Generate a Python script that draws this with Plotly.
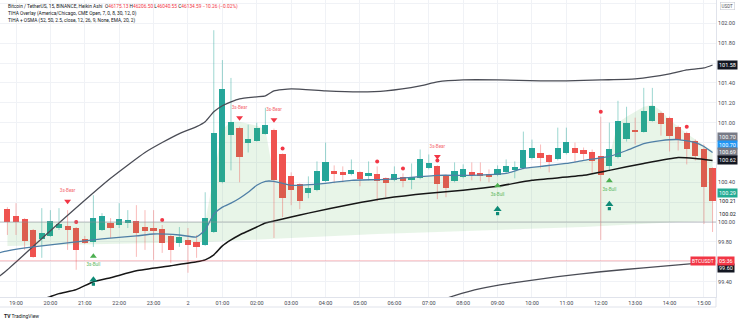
import plotly.graph_objects as go
import pandas as pd

# ---------------- data ----------------
START = "2024-01-01 18:45"
N_CANDLES = 83
times = pd.date_range(START, periods=N_CANDLES, freq="15min")
time_labels = [t.strftime("%H:%M") for t in times]

ha_open = [100.13, 100.06, 100.03, 99.92, 99.83, 99.86, 99.94, 99.96, 99.94, 99.83,
           99.80, 99.92, 99.99, 99.97, 100.00, 100.01, 99.95, 99.94, 99.93, 99.86,
           99.79, 99.82, 99.80, 99.77, 99.90, 100.40, 100.88, 100.95, 100.80, 100.82,
           100.89, 100.93, 100.68, 100.46, 100.38, 100.29, 100.32, 100.41, 100.51, 100.50,
           100.48, 100.50, 100.46, 100.48, 100.44, 100.42, 100.45, 100.43, 100.44, 100.54,
           100.56, 100.47, 100.41, 100.45, 100.50, 100.49, 100.48, 100.47, 100.50, 100.53,
           100.54, 100.64, 100.69, 100.67, 100.63, 100.69, 100.75, 100.72, 100.70, 100.66,
           100.56, 100.65, 100.84, 100.92, 100.91, 101.02, 101.10, 101.05, 100.96, 100.90,
           100.82, 100.74, 100.54]
ha_high = [100.15, 100.19, 100.04, 99.93, 100.14, 100.12, 100.14, 100.12, 99.95, 99.86,
           100.27, 100.09, 100.04, 100.19, 100.12, 100.17, 100.12, 100.12, 99.97, 99.87,
           99.95, 99.94, 99.87, 100.30, 101.93, 101.63, 101.45, 100.96, 100.98, 101.00,
           101.15, 100.94, 100.69, 100.50, 100.39, 100.46, 100.61, 100.80, 100.57, 100.56,
           100.63, 100.51, 100.61, 100.56, 100.45, 100.56, 100.49, 100.59, 100.73, 100.68,
           100.57, 100.48, 100.60, 100.58, 100.60, 100.60, 100.53, 100.57, 100.63, 100.61,
           100.91, 100.83, 100.78, 100.68, 100.95, 100.95, 100.80, 100.75, 100.73, 101.06,
           101.00, 101.22, 101.16, 101.05, 101.35, 101.35, 101.11, 101.06, 100.97, 100.91,
           100.83, 100.78, 100.55]
ha_low = [99.87, 99.87, 99.72, 99.64, 99.64, 99.85, 99.92, 99.72, 99.52, 99.78,
          99.75, 99.91, 99.84, 99.94, 99.94, 99.65, 99.72, 99.62, 99.69, 99.59,
          99.75, 99.49, 99.64, 99.76, 99.89, 100.39, 100.52, 100.40, 100.70, 100.81,
          100.88, 99.84, 100.05, 100.17, 100.13, 100.24, 100.31, 100.40, 100.39, 100.40,
          100.47, 100.36, 100.42, 100.21, 100.25, 100.41, 100.35, 100.33, 100.43, 100.53,
          100.23, 100.25, 100.40, 100.44, 100.42, 100.41, 100.40, 100.46, 100.49, 100.44,
          100.53, 100.63, 100.54, 100.50, 100.62, 100.68, 100.60, 100.63, 100.49, 99.82,
          100.51, 100.64, 100.81, 100.78, 100.90, 101.01, 100.87, 100.71, 100.72, 100.58,
          100.62, 99.98, 99.90]
ha_close = [100.00, 100.00, 99.81, 99.65, 99.89, 100.01, 99.98, 99.92, 99.72, 99.79,
            100.04, 100.06, 99.94, 100.03, 100.02, 99.89, 99.91, 99.91, 99.79, 99.72,
            99.85, 99.77, 99.75, 100.04, 100.90, 101.34, 101.01, 100.65, 100.84, 100.95,
            100.98, 100.42, 100.24, 100.32, 100.21, 100.34, 100.51, 100.60, 100.48, 100.48,
            100.52, 100.43, 100.49, 100.41, 100.39, 100.48, 100.41, 100.45, 100.63, 100.59,
            100.38, 100.34, 100.51, 100.53, 100.48, 100.47, 100.46, 100.53, 100.56, 100.55,
            100.72, 100.75, 100.64, 100.60, 100.75, 100.81, 100.69, 100.68, 100.61, 100.47,
            100.73, 101.02, 101.00, 100.91, 101.12, 101.17, 100.99, 100.87, 100.83, 100.74,
            100.66, 100.35, 100.21]

# indicator lines: (candle index, value)
upper_band = [(-1, 99.45), (0, 99.52), (6, 99.99), (12, 100.44), (16, 100.70), (18, 100.80),
              (20, 100.89), (22, 100.96), (23, 101.01), (24, 101.11), (25, 101.17), (26, 101.21),
              (27, 101.24), (29, 101.26), (30, 101.27), (31, 101.32), (33, 101.34), (37, 101.32),
              (41, 101.31), (44, 101.32), (48, 101.37), (50, 101.41), (53, 101.43), (57, 101.43),
              (62, 101.42), (65, 101.42), (69, 101.43), (73, 101.44), (77, 101.49), (79, 101.53),
              (81, 101.55), (82, 101.58)]
mid_line = [(4, 99.22), (5, 99.25), (6, 99.28), (8, 99.32), (10, 99.40), (12, 99.44), (15, 99.51),
            (19, 99.56), (22, 99.60), (23, 99.62), (24, 99.67), (25, 99.76), (26, 99.82),
            (27, 99.87), (28, 99.91), (29, 99.95), (30, 99.99), (31, 100.01), (33, 100.05),
            (35, 100.09), (40, 100.18), (44, 100.24), (49, 100.29), (53, 100.32), (57, 100.36),
            (61, 100.42), (67, 100.47), (70, 100.52), (74, 100.59), (78, 100.65), (80, 100.64),
            (82, 100.62)]
lower_band = [(50, 99.20), (52, 99.26), (55, 99.33), (59, 99.39), (64, 99.45), (69, 99.50),
              (74, 99.54), (78, 99.57), (82, 99.60)]
ema_line = [(-1, 99.69), (0, 99.71), (3, 99.75), (7, 99.79), (11, 99.83), (15, 99.86), (17, 99.88),
            (20, 99.87), (22, 99.85), (23, 99.92), (24, 100.08), (25, 100.15), (26, 100.19),
            (27, 100.24), (28, 100.30), (29, 100.37), (30, 100.41), (31, 100.41), (33, 100.37),
            (37, 100.39), (40, 100.42), (44, 100.43), (50, 100.47), (54, 100.47), (58, 100.49),
            (60, 100.54), (62, 100.56), (65, 100.59), (67, 100.62), (70, 100.66), (72, 100.72),
            (74, 100.79), (76, 100.82), (78, 100.83), (80, 100.80), (81, 100.76), (82, 100.70)]
cloud_top = [(0, 100.00), (22, 100.00), (23, 100.00), (24, 100.47), (25, 100.93), (26, 101.01),
             (27, 101.01), (28, 100.99), (29, 100.97), (30, 100.93), (31, 100.44), (33, 100.37),
             (37, 100.39), (40, 100.42), (44, 100.43), (50, 100.47), (54, 100.47), (58, 100.49),
             (60, 100.54), (62, 100.56), (65, 100.59), (67, 100.62), (70, 100.66), (71, 101.00),
             (72, 101.06), (73, 101.11), (74, 101.16), (75, 101.18), (76, 101.12), (77, 101.03),
             (78, 100.96), (79, 100.89), (80, 100.83), (81, 100.77), (82, 100.72)]
cloud_bottom = [(0, 99.76), (16, 99.79), (23, 99.80), (33, 99.84), (43, 99.88), (50, 99.90),
                (67, 99.95), (78, 100.00), (82, 100.01)]

bear_signals = [7, 27, 31, 50]
bull_signals = [10, 57, 70]
dot_signals = [8, 18, 32, 43, 46, 50, 69, 79]

zero_level = 100.00
symbol_price_level = 99.61

axis_label_texts = ["101.58", "100.70", "100.70", "100.69", "100.62", "100.29", "100.21", "100.02", "99.60"]
axis_label_values = [101.58, 100.70, 100.70, 100.69, 100.62, 100.29, 100.21, 100.02, 99.60]

y_ticks = [99.2, 99.4, 99.6, 99.8, 100.0, 100.2, 100.4, 100.6, 100.8, 101.0, 101.2, 101.4, 101.6, 101.8, 102.0, 102.2]
y_tick_hidden = [99.2, 99.6, 100.2, 100.6, 100.8, 101.6, 102.2]

legend_line1 = ("Bitcoin / TetherUS, 15, BINANCE, Heikin Ashi", [("O", "46175.13"), ("H", "46206.50"),
                ("L", "46040.55"), ("C", "46134.59")], "\u221210.26 (\u22120.02%)")
legend_line2 = "TIHA Overlay (America/Chicago, CME Open, 7, 0, 8, 30, 12, 0)"
legend_line3 = "TIHA + OSMA (52, 50, 2.5, close, 12, 26, 9, None, EMA, 20, 2)"

# ---------------- styles ----------------
GREEN = "#26a69a"
RED = "#ef5350"
GREEN_WICK = "rgba(38,166,154,0.45)"
RED_WICK = "rgba(239,83,80,0.40)"
ARROW_COLOR = "#0e8a76"
FONT = "Roboto"
TXT = "#131722"
GRID = "#f0f2f6"
AXLINE = "#e0e3eb"

W, H = 743, 322
ML, MR, MT, MB = 0, 27, 0, 25
PW, PH = W - ML - MR, H - MT - MB

x_range = [-0.86, 82.4]
y_range = [99.246, 102.234]

fig = go.Figure()

# cloud fill
fig.add_trace(go.Scatter(x=[p[0] for p in cloud_bottom], y=[p[1] for p in cloud_bottom],
                         mode="lines", line=dict(width=0, color="rgba(0,0,0,0)"), hoverinfo="skip"))
fig.add_trace(go.Scatter(x=[p[0] for p in cloud_top], y=[p[1] for p in cloud_top],
                         mode="lines", line=dict(width=0, color="rgba(0,0,0,0)"),
                         fill="tonexty", fillcolor="rgba(76,175,80,0.13)", hoverinfo="skip"))

# wicks
idx = list(range(N_CANDLES))
gx, gy, rx, ry = [], [], [], []
for i in idx:
    if ha_close[i] >= ha_open[i]:
        gx += [i, i, None]; gy += [ha_low[i], ha_high[i], None]
    else:
        rx += [i, i, None]; ry += [ha_low[i], ha_high[i], None]
fig.add_trace(go.Scatter(x=gx, y=gy, mode="lines", line=dict(color=GREEN_WICK, width=1), hoverinfo="skip"))
fig.add_trace(go.Scatter(x=rx, y=ry, mode="lines", line=dict(color=RED_WICK, width=1), hoverinfo="skip"))

# bodies
base = [min(o, c) for o, c in zip(ha_open, ha_close)]
length = [max(abs(c - o), 0.012) for o, c in zip(ha_open, ha_close)]
colors = [GREEN if c >= o else RED for o, c in zip(ha_open, ha_close)]
fig.add_trace(go.Bar(x=idx, y=length, base=base, width=0.72, marker=dict(color=colors, line=dict(width=0)),
                     hovertext=time_labels, hoverinfo="text"))

# lines
def add_line(pts, color, width):
    fig.add_trace(go.Scatter(x=[p[0] for p in pts], y=[p[1] for p in pts], mode="lines",
                             line=dict(color=color, width=width, shape="spline", smoothing=0.5),
                             hoverinfo="skip"))

add_line(upper_band, "#4a4c55", 1.3)
add_line(lower_band, "#4a4c55", 1.3)
add_line(ema_line, "#4f7fa6", 1.3)
add_line(mid_line, "#161616", 1.5)

# signals
BEAR_TRI, BEAR_TXT = 0.09, 0.19
BULL_TRI, BULL_TXT = 0.095, 0.185
ARROW_HEAD, ARROW_STEM = 0.33, 0.375
DOT = 0.05
fig.add_trace(go.Scatter(x=bear_signals, y=[ha_high[i] + BEAR_TRI for i in bear_signals], mode="markers",
                         marker=dict(symbol="triangle-down", size=6, color="#f23645"), hoverinfo="skip"))
fig.add_trace(go.Scatter(x=bear_signals, y=[ha_high[i] + BEAR_TXT for i in bear_signals], mode="text",
                         text=["3s-Bear"] * len(bear_signals),
                         textfont=dict(family=FONT, size=4.6, color="#f46b72"), hoverinfo="skip"))
fig.add_trace(go.Scatter(x=bull_signals, y=[ha_low[i] - BULL_TRI for i in bull_signals], mode="markers",
                         marker=dict(symbol="triangle-up", size=6, color="#4caf50"), hoverinfo="skip"))
fig.add_trace(go.Scatter(x=bull_signals, y=[ha_low[i] - BULL_TXT for i in bull_signals], mode="text",
                         text=["3s-Bull"] * len(bull_signals),
                         textfont=dict(family=FONT, size=4.6, color="#5cb860"), hoverinfo="skip"))
# up-arrows: stem + head
fig.add_trace(go.Scatter(x=bull_signals, y=[ha_low[i] - ARROW_STEM for i in bull_signals], mode="markers",
                         marker=dict(symbol="square", size=3.2, color=ARROW_COLOR, line=dict(width=0)),
                         hoverinfo="skip"))
fig.add_trace(go.Scatter(x=bull_signals, y=[ha_low[i] - ARROW_HEAD for i in bull_signals], mode="markers",
                         marker=dict(symbol="triangle-up", size=7, color=ARROW_COLOR, line=dict(width=0)),
                         hoverinfo="skip"))
fig.add_trace(go.Scatter(x=dot_signals, y=[ha_high[i] + DOT for i in dot_signals], mode="markers",
                         marker=dict(symbol="circle", size=4, color="#f23645"), hoverinfo="skip"))

annotations = []

# x ticks
tick_idx = [i for i, t in enumerate(times) if t.minute == 0]
tick_txt = ["2" if times[i].hour == 0 else time_labels[i] for i in tick_idx]

# y tick labels
ytext = ["" if v in y_tick_hidden else f"{v:.2f}" for v in y_ticks]

# horizontal levels
shapes = [
    dict(type="line", xref="paper", yref="y", x0=0, x1=1, y0=zero_level, y1=zero_level,
         line=dict(color="rgba(140,143,150,0.28)", width=2)),
    dict(type="line", xref="paper", yref="y", x0=0, x1=1, y0=symbol_price_level, y1=symbol_price_level,
         line=dict(color="rgba(242,54,69,0.35)", width=1)),
    dict(type="line", xref="paper", yref="paper", x0=0, x1=1, y0=-10 / PH, y1=-10 / PH,
         line=dict(color=AXLINE, width=1)),
    dict(type="line", xref="paper", yref="paper", x0=1, x1=1, y0=-10 / PH, y1=0,
         line=dict(color=AXLINE, width=1)),
]

# right-axis value labels
label_styles = [  # (background, text colour, pixel shift)
    ("#131722", "#ffffff", 0), ("#787b86", "#ffffff", 15), ("#2196f3", "#ffffff", 7.5),
    ("#787b86", "#ffffff", 1.5), ("#131722", "#ffffff", 0), ("#22ab94", "#ffffff", 0),
    (None, TXT, 0), (None, TXT, 6), ("#131722", "#ffffff", -6),
]
for txt, val, (bg, fc, sh) in zip(axis_label_texts, axis_label_values, label_styles):
    a = dict(x=1, y=val, xref="paper", yref="y", xanchor="left", yanchor="middle", xshift=1, yshift=sh,
             text=txt, showarrow=False, font=dict(family=FONT, size=5.5, color=fc), borderpad=1)
    if bg:
        a["bgcolor"] = bg
    annotations.append(a)

# symbol price label
annotations.append(dict(x=1, y=symbol_price_level, xref="paper", yref="y", xanchor="right", yanchor="middle",
                        text="BTCUSDT", showarrow=False, bgcolor="#f23645", borderpad=1,
                        font=dict(family=FONT, size=5, color="#ffffff")))
annotations.append(dict(x=1, y=symbol_price_level, xref="paper", yref="y", xanchor="left", yanchor="middle",
                        xshift=1, text="05:36", showarrow=False, bgcolor="#f23645", borderpad=1,
                        font=dict(family=FONT, size=5.5, color="#ffffff")))

# currency box
annotations.append(dict(x=1, y=1, xref="paper", yref="paper", xanchor="left", yanchor="top", xshift=4, yshift=-2,
                        text="USDT", showarrow=False, bordercolor="#c9ccd4", borderwidth=0.6, borderpad=1,
                        font=dict(family=FONT, size=4.5, color="#50535e")))

# legend text
name, ohlc, chg = legend_line1
red_span = '<span style="color:#f23645">{}</span>'
line1 = name + "  " + " ".join(k + red_span.format(v) for k, v in ohlc) + " " + red_span.format(chg)
for k, t in enumerate([line1, legend_line2, legend_line3]):
    annotations.append(dict(x=0, y=1, xref="paper", yref="paper", xanchor="left", yanchor="middle",
                            xshift=6, yshift=-6 - 7.3 * k, text=t, showarrow=False,
                            font=dict(family=FONT, size=4.8, color=TXT)))

# TradingView mark
annotations.append(dict(x=0, y=-19 / PH, xref="paper", yref="paper", xanchor="left", yanchor="middle",
                        xshift=2, text="<b>TV</b> TradingView", showarrow=False,
                        font=dict(family=FONT, size=5, color="#131722")))

fig.update_layout(
    width=W, height=H, margin=dict(l=ML, r=MR, t=MT, b=MB),
    plot_bgcolor="#ffffff", paper_bgcolor="#ffffff", showlegend=False, hovermode=False,
    font=dict(family=FONT, size=5.5, color=TXT),
    xaxis=dict(range=x_range, tickvals=tick_idx, ticktext=tick_txt, showgrid=True, gridcolor=GRID,
               gridwidth=1, zeroline=False, showline=True, linecolor=AXLINE, linewidth=1, ticks="",
               tickfont=dict(family=FONT, size=5.5, color="#434651"), automargin=False, fixedrange=True),
    yaxis=dict(range=y_range, side="right", tickvals=y_ticks, ticktext=ytext, showgrid=True,
               gridcolor=GRID, gridwidth=1, zeroline=False, showline=True, linecolor=AXLINE, linewidth=1,
               ticks="", tickfont=dict(family=FONT, size=5.5, color="#434651"), automargin=False,
               fixedrange=True),
    shapes=shapes, annotations=annotations, bargap=0,
)

fig.write_html("out.html")
